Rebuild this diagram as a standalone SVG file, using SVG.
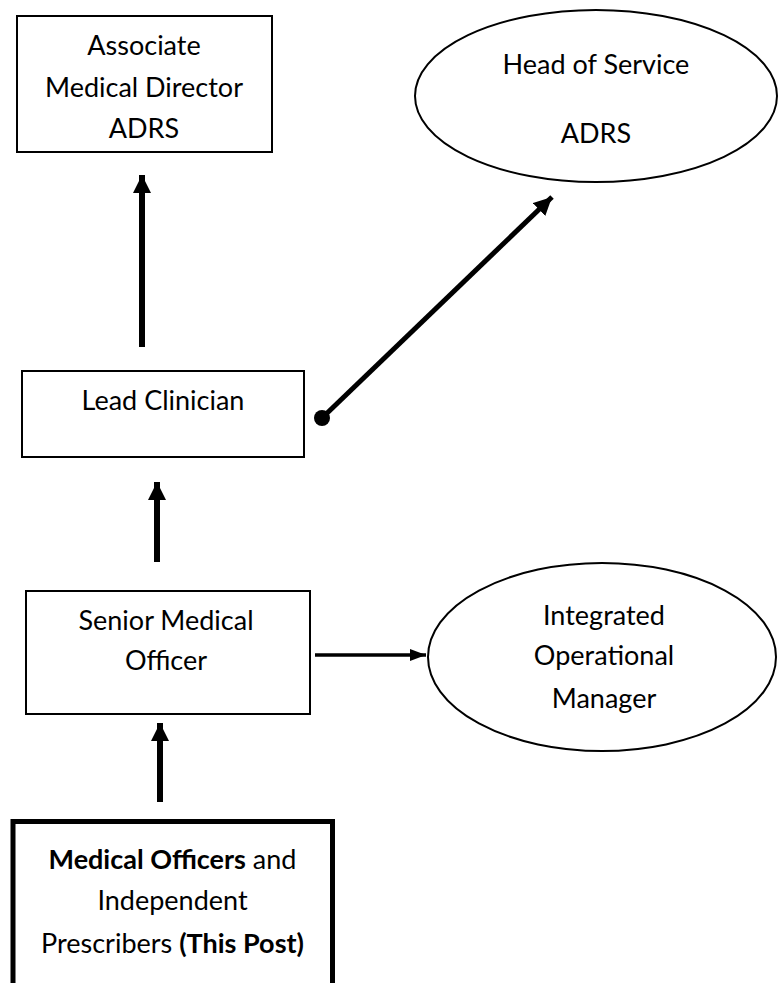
<svg xmlns="http://www.w3.org/2000/svg" width="778" height="983" viewBox="0 0 778 983">
<style>
text{font-family:Lato,"Open Sans","Liberation Sans",sans-serif;font-size:27px;fill:#000;text-anchor:middle}
.box{fill:#fff;stroke:#000;stroke-width:2}
.thick{fill:#fff;stroke:#000;stroke-width:5}
.conn{stroke:#000;fill:none}
.b{font-weight:bold}
</style>
<defs>
<marker id="ah" markerUnits="userSpaceOnUse" markerWidth="20" markerHeight="20" refX="18" refY="9" orient="auto"><path d="M0,0 L18,9 L0,18 Z" fill="#000"/></marker>
<marker id="ahs" markerUnits="userSpaceOnUse" markerWidth="18" markerHeight="14" refX="16" refY="6" orient="auto"><path d="M0,0 L16,6 L0,12 Z" fill="#000"/></marker>
</defs>
<g id="amd"><rect class="box" x="17" y="16" width="255" height="136"/>
<text x="144" y="55">Associate</text><text x="144" y="97">Medical Director</text><text x="144" y="138">ADRS</text></g>
<g id="hos"><ellipse class="box" cx="596" cy="96" rx="181" ry="86"/>
<text x="596" y="74">Head of Service</text><text x="596" y="143">ADRS</text></g>
<g id="lead"><rect class="box" x="22" y="371" width="282" height="86"/>
<text x="163" y="410">Lead Clinician</text></g>
<g id="smo"><rect class="box" x="26" y="591" width="284" height="123"/>
<text x="166" y="630">Senior Medical</text><text x="166" y="670">Officer</text></g>
<g id="iom"><ellipse class="box" cx="602" cy="657" rx="174" ry="94"/>
<text x="604" y="625">Integrated</text><text x="604" y="665">Operational</text><text x="604" y="708">Manager</text></g>
<g id="mo"><rect class="thick" x="13" y="821.5" width="319.5" height="200"/>
<text x="172.5" y="869"><tspan class="b">Medical Officers</tspan> and</text>
<text x="172.5" y="910">Independent</text>
<text x="172.5" y="953">Prescribers <tspan class="b">(This Post)</tspan></text></g>
<g id="connectors">
<line class="conn" x1="142" y1="347" x2="142" y2="175" stroke-width="6" marker-end="url(#ah)"/>
<line class="conn" x1="322" y1="418" x2="552" y2="197" stroke-width="5" marker-end="url(#ah)"/>
<circle cx="322" cy="418" r="8" fill="#000"/>
<line class="conn" x1="157" y1="562" x2="157" y2="482" stroke-width="6" marker-end="url(#ah)"/>
<line class="conn" x1="315" y1="655" x2="426" y2="655" stroke-width="3.5" marker-end="url(#ahs)"/>
<line class="conn" x1="160" y1="802" x2="160" y2="723" stroke-width="6" marker-end="url(#ah)"/>
</g>
</svg>
